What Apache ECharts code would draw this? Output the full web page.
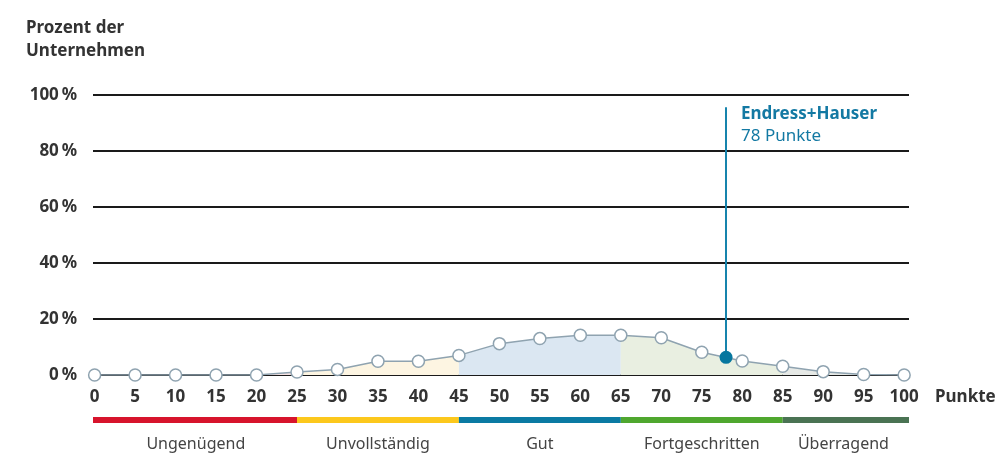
<!DOCTYPE html>
<html>
<head>
<meta charset="utf-8">
<script src="https://cdn.jsdelivr.net/npm/echarts@6/dist/echarts.min.js"></script>
<style>
html,body{margin:0;padding:0;background:#fff;}
#chart{width:1006px;height:455px;}
</style>
</head>
<body>
<div id="chart"></div>
<script>
// ---- data ----
const xTicks = [0,5,10,15,20,25,30,35,40,45,50,55,60,65,70,75,80,85,90,95,100];
const shares = [0,0,0,0,0,1.1,2.0,4.9,4.9,7.0,11.2,13.0,14.2,14.2,13.3,8.1,5.0,3.1,1.2,0.2,0];
const yTicks = [0,20,40,60,80,100];
const companyName = 'Endress+Hauser';
const companyScore = 78;
const companyShare = 6.3;
const companyLineTop = 95.6;
const bandNames = ['Ungenügend','Unvollständig','Gut','Fortgeschritten','Überragend'];
const bandEdges = [0,25,45,65,85,100];
const bandColors = ['#d7142c','#fcc81c','#0a7aa3','#4fa72f','#4a7353'];
const areaColors = ['#f7e3e4','#fdf5e2','#dbe7f2','#e9efe1','#e6e9e6'];
const yTitle = 'Prozent der\nUnternehmen';
const xTitle = 'Punkte';

const X_MIN = -0.2, X_MAX = 100.6;
const FONT = '"Noto Sans", sans-serif';
const BLUE = '#1379a3';

const points = xTicks.map((x,i)=>[x, shares[i]]);

const areaSeries = bandNames.map((n,i)=>({
  type:'line', xAxisIndex:0, yAxisIndex:0, silent:true, z:1,
  symbol:'none', lineStyle:{width:0, opacity:0},
  areaStyle:{color:areaColors[i], opacity:1},
  data: points.filter(p=>p[0]>=bandEdges[i] && p[0]<=bandEdges[i+1])
}));

const bandData = bandNames.map((n,i)=>[
  i===0 ? X_MIN : bandEdges[i],
  i===bandNames.length-1 ? X_MAX : bandEdges[i+1],
  (bandEdges[i]+bandEdges[i+1])/2, i
]);

const chart = echarts.init(document.getElementById('chart'), null, {renderer:'canvas'});
chart.setOption({
  animation:false,
  textStyle:{fontFamily:FONT},
  title:{
    text: yTitle, left:26, top:17, padding:0,
    textStyle:{fontFamily:FONT, fontSize:17, fontWeight:'bold', color:'#333', lineHeight:23}
  },
  grid:[
    {left:93, width:816, top:95, height:280},
    {left:93, width:816, top:417, height:6}
  ],
  xAxis:[
    {gridIndex:0, type:'value', min:X_MIN, max:X_MAX,
     axisLine:{show:false}, axisTick:{show:false}, splitLine:{show:false},
     axisLabel:{customValues:xTicks, margin:14, fontFamily:FONT, fontSize:17, fontWeight:'bold', color:'#333'},
     name:xTitle, nameLocation:'end', nameGap:26,
     nameTextStyle:{fontFamily:FONT, fontSize:17, fontWeight:'bold', color:'#333', verticalAlign:'top', padding:[14,0,0,0], align:'left'}
    },
    {gridIndex:1, type:'value', min:X_MIN, max:X_MAX, show:false}
  ],
  yAxis:[
    {gridIndex:0, type:'value', min:0, max:100, interval:20,
     axisLine:{show:false}, axisTick:{show:false},
     splitLine:{show:true, lineStyle:{color:'#1a1a1a', width:2}},
     axisLabel:{margin:16, fontFamily:FONT, fontSize:17, fontWeight:'bold', color:'#333',
       formatter:v=>v+'\u2009%'}
    },
    {gridIndex:1, type:'value', min:0, max:1, show:false}
  ],
  series:[
    ...areaSeries,
    {
      type:'line', xAxisIndex:0, yAxisIndex:0, z:3, silent:true,
      data:points, symbol:'circle', symbolSize:12,
      lineStyle:{color:'#8fa3b0', width:1.5},
      itemStyle:{color:'#ffffff', borderColor:'#8fa3b0', borderWidth:1.5}
    },
    {
      type:'scatter', xAxisIndex:0, yAxisIndex:0, z:5, silent:true,
      data:[[companyScore, companyShare]], symbolSize:13,
      itemStyle:{color:'#07779f', opacity:1},
      markLine:{
        silent:true, symbol:['none','none'], label:{show:false},
        lineStyle:{color:'#1784ad', width:2, type:'solid', opacity:1},
        data:[[{coord:[companyScore, companyShare]},{coord:[companyScore, companyLineTop]}]]
      }
    },
    {
      type:'scatter', xAxisIndex:0, yAxisIndex:0, z:6, silent:true,
      data:[[companyScore, companyLineTop]], symbolSize:0,
      itemStyle:{opacity:1},
      label:{show:true, position:[15,-4], align:'left', verticalAlign:'top', opacity:1,
        formatter:'{a|'+companyName+'}\n{b|'+companyScore+' Punkte}',
        rich:{
          a:{fontFamily:FONT, fontSize:17, fontWeight:'bold', color:BLUE, lineHeight:22},
          b:{fontFamily:FONT, fontSize:17, color:BLUE, lineHeight:22}
        }
      }
    },
    {
      type:'custom', xAxisIndex:1, yAxisIndex:1, silent:true,
      data:bandData,
      renderItem:(params, api)=>{
        const p0 = api.coord([api.value(0), 1]);
        const p1 = api.coord([api.value(1), 0]);
        const pc = api.coord([api.value(2), 0]);
        const idx = api.value(3);
        return {
          type:'group',
          children:[
            {type:'rect', shape:{x:p0[0], y:p0[1], width:p1[0]-p0[0], height:p1[1]-p0[1]},
             style:{fill:bandColors[idx]}},
            {type:'text', x:pc[0], y:p1[1]+21,
             style:{text:bandNames[idx], fill:'#444', font:'16px "Noto Sans", sans-serif', align:'center', verticalAlign:'middle'}}
          ]
        };
      }
    }
  ]
});
</script>
</body>
</html>
